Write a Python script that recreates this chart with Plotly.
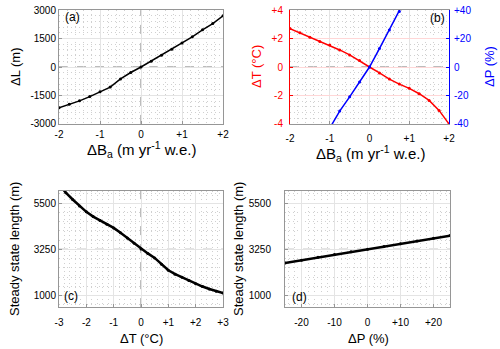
import plotly.graph_objects as go

# (a) length change vs mass balance change
ba = [-2, -1.75, -1.5, -1.25, -1, -0.75, -0.5, -0.25, 0, 0.25, 0.5, 0.75, 1, 1.25, 1.5, 1.75, 2]
dL = [-2150, -1970, -1785, -1560, -1300, -1060, -630, -290, 0, 310, 620, 940, 1260, 1590, 1960, 2290, 2700]

# (b) temperature / precipitation change equivalent to a mass balance change
dT = [2.7, 2.4, 2.1, 1.8, 1.55, 1.2, 0.85, 0.45, 0, -0.42, -0.85, -1.2, -1.5, -1.88, -2.35, -3.05, -4.0]
ba_p = [-1, -0.75, -0.5, -0.25, 0, 0.25, 0.5, 0.75, 1]
dP = [-43, -31, -21, -10.5, 0, 13, 26, 39, 53]

# (c) steady state length vs temperature change
t_c = [-3, -2.75, -2.5, -2.25, -2, -1.75, -1.5, -1.25, -1, -0.75, -0.5, -0.25, 0,
       0.25, 0.5, 0.75, 1, 1.25, 1.5, 1.75, 2, 2.25, 2.5, 2.75, 3]
len_c = [6400, 6000, 5670, 5350, 5070, 4840, 4650, 4470, 4290, 4050, 3800, 3540, 3260,
         3050, 2830, 2520, 2230, 2040, 1890, 1730, 1580, 1440, 1320, 1210, 1120]

# (d) steady state length vs precipitation change
p_d = [-25, -20, -15, -10, -5, 0, 5, 10, 15, 20, 25]
len_d = [2585, 2720, 2860, 2995, 3125, 3255, 3390, 3520, 3655, 3785, 3915]

ba_ticks = [-2, -1, 0, 1, 2]
ba_text = ['-2', '-1', '0', '+1', '+2']
t_ticks = [-3, -2, -1, 0, 1, 2, 3]
t_text = ['-3', '-2', '-1', '0', '+1', '+2', '+3']
p_ticks = [-20, -10, 0, 10, 20]
p_text = ['-20', '-10', '0', '+10', '+20']
dT_ticks = [-4, -2, 0, 2, 4]
dT_text = ['-4', '-2', '0', '+2', '+4']
dP_ticks = [-40, -20, 0, 20, 40]
dP_text = ['-40', '-20', '0', '+20', '+40']
L_ticks = [-3000, -1500, 0, 1500, 3000]
len_ticks = [1000, 3250, 5500]
ref_len = 3250

FONT = "Liberation Sans"
BOX = "rgb(150,150,150)"
GRID = "rgb(228,228,228)"
MINOR = "rgb(208,208,208)"
RED = "rgb(255,0,0)"
BLUE = "rgb(0,0,255)"
ba_title = "ΔB<sub>a</sub> (m yr<sup>-1</sup> w.e.)"

fig = go.Figure()

fig.add_trace(go.Scatter(x=ba, y=dL, mode='lines+markers', xaxis='x', yaxis='y',
                         line=dict(color='black', width=1.5), marker=dict(size=3, color='black')))
fig.add_trace(go.Scatter(x=ba, y=dT, mode='lines+markers', xaxis='x2', yaxis='y2',
                         line=dict(color=RED, width=1.5), marker=dict(size=3, color=RED)))
fig.add_trace(go.Scatter(x=ba_p, y=dP, mode='lines+markers', xaxis='x2', yaxis='y3',
                         line=dict(color=BLUE, width=1.5), marker=dict(size=3, color=BLUE)))
fig.add_trace(go.Scatter(x=t_c, y=len_c, mode='lines+markers', xaxis='x3', yaxis='y4',
                         line=dict(color='black', width=2.5), marker=dict(size=3, color='black')))
fig.add_trace(go.Scatter(x=p_d, y=len_d, mode='lines+markers', xaxis='x4', yaxis='y5',
                         line=dict(color='black', width=2.5), marker=dict(size=3, color='black')))


def xax(domain, anchor, rng, tv, tt, minor, lab_off=0):
    return dict(domain=domain, anchor=anchor, range=rng, tickvals=tv, ticktext=tt,
                showline=True, linecolor=BOX, mirror=True, ticks='inside', ticklen=3,
                tickcolor=BOX, showgrid=True, gridcolor=GRID, zeroline=False, automargin=False,
                tickfont=dict(size=10, color='black'), ticklabelstandoff=lab_off,
                minor=dict(dtick=minor, showgrid=True, gridcolor=MINOR, griddash='1px,3px', ticks=''))


def yax(domain, anchor, rng, tv, tt, minor, color='black', grid=GRID, tick0=None, lab_off=0):
    d = dict(domain=domain, anchor=anchor, range=rng, tickvals=tv, ticktext=tt,
             showline=True, linecolor=BOX, mirror=True, ticks='inside', ticklen=3,
             tickcolor=BOX, showgrid=True, gridcolor=grid, zeroline=False, automargin=False,
             tickfont=dict(size=10, color=color), ticklabelstandoff=lab_off,
             minor=dict(dtick=minor, showgrid=True, gridcolor=MINOR, griddash='1px,3px', ticks=''))
    if tick0 is not None:
        d['minor']['tick0'] = tick0
    return d


top = [0.645, 0.971]
bot = [0.12, 0.454]

fig.update_layout(
    width=500, height=349,
    margin=dict(l=0, r=0, t=0, b=0),
    paper_bgcolor='white', plot_bgcolor='white',
    showlegend=False,
    font=dict(family=FONT, color='black'),
    xaxis=xax([0.118, 0.446], 'y', [-2, 2], ba_ticks, ba_text, 0.2, lab_off=1),
    yaxis=yax(top, 'x', [-3000, 3000], L_ticks, [str(v) for v in L_ticks], 300),
    xaxis2=xax([0.58, 0.898], 'y2', [-2, 2], ba_ticks, ba_text, 0.2, lab_off=5),
    yaxis2=yax(top, 'x2', [-4, 4], dT_ticks, dT_text, 0.4, color=RED,
               grid="rgb(255,215,215)", lab_off=4),
    yaxis3=dict(domain=top, anchor='x2', overlaying='y2', side='right', range=[-40, 40],
                tickvals=dP_ticks, ticktext=dP_text, showline=True, linecolor=BLUE,
                ticks='inside', ticklen=3, tickcolor=BLUE, showgrid=False, zeroline=False,
                automargin=False, tickfont=dict(size=10, color=BLUE), ticklabelstandoff=2),
    xaxis3=xax([0.118, 0.446], 'y4', [-3, 3], t_ticks, t_text, 0.2, lab_off=6),
    yaxis4=yax(bot, 'x3', [440, 6105], len_ticks, [str(v) for v in len_ticks], 450, tick0=1000),
    xaxis4=xax([0.57, 0.9], 'y5', [-25, 25], p_ticks, p_text, 2, lab_off=6),
    yaxis5=yax(bot, 'x4', [440, 6105], len_ticks, [str(v) for v in len_ticks], 450,
               tick0=1000, lab_off=11),
)
fig.layout.yaxis2.linecolor = RED
fig.layout.yaxis2.tickcolor = RED
fig.layout.yaxis2.mirror = False

dash = dict(color='rgb(120,120,120)', width=1, dash='dash')
for xr, yr, yval in [('x', 'y', 0), ('x2', 'y2', 0), ('x3', 'y4', ref_len), ('x4', 'y5', ref_len)]:
    fig.add_shape(type='line', xref=xr, yref=yr + ' domain', x0=0, x1=0, y0=0, y1=1, line=dash, layer='below')
    fig.add_shape(type='line', xref=xr + ' domain', yref=yr, x0=0, x1=1, y0=yval, y1=yval, line=dash, layer='below')


def note(txt, px_x, px_y, size=13, color='black', angle=0):
    fig.add_annotation(text=txt, xref='paper', yref='paper', x=px_x / 500, y=1 - px_y / 349,
                       xanchor='center', yanchor='middle', showarrow=False, textangle=angle,
                       font=dict(size=size, color=color))


# axis titles (pixel positions)
note(ba_title, 141, 149, size=15)
note(ba_title, 370, 153, size=15)
note("ΔL (m)", 15, 67, angle=-90)
note("ΔT (°C)", 256, 67, color=RED, angle=-90)
note("ΔP (%)", 489, 67, color=BLUE, angle=-90)
note("ΔT (°C)", 141, 338)
note("ΔP (%)", 368, 338)
note("Steady state length (m)", 14, 249, angle=-90)
note("Steady state length (m)", 238, 249, angle=-90)

# panel labels
for txt, px_x, px_y in [("(a)", 72, 17), ("(b)", 437, 18), ("(c)", 71, 296), ("(d)", 299, 297)]:
    note(txt, px_x, px_y, size=12)

# the page body has a default 8px margin; drop it so the figure fills the window
fig.write_html("out.html", config={'displayModeBar': False},
               post_script="document.body.style.margin='0';")
